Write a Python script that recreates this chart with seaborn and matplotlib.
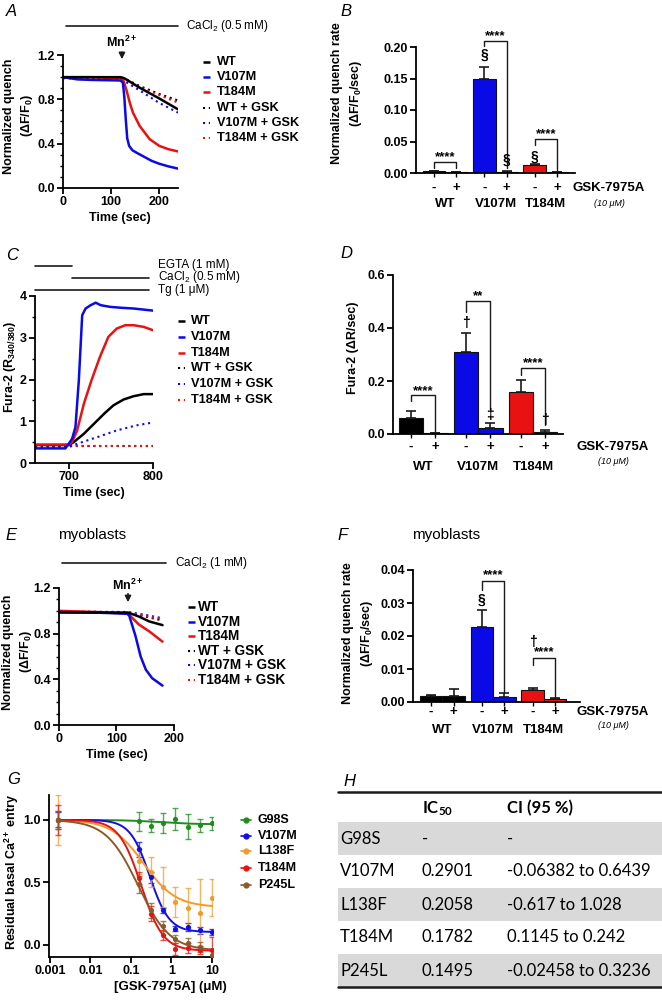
import numpy as np
import pandas as pd
import matplotlib
matplotlib.use("Agg")
import matplotlib.pyplot as plt
import matplotlib.transforms as mtransforms
from matplotlib.patches import Rectangle
from matplotlib.ticker import MultipleLocator
import seaborn as sns

# ======================= DATA =======================
# Panel A: Mn2+ quench (time in sec, normalized F)
a_wt_t = [0, 60, 120, 128, 160, 200, 240]
a_wt_y = [1.0, 1.0, 1.0, 0.99, 0.905, 0.81, 0.71]
a_v107m_t = [0, 30, 60, 120, 125, 128, 131, 134, 138, 145, 155, 170, 185, 200, 220, 240]
a_v107m_y = [1.0, 0.98, 0.975, 0.97, 0.95, 0.82, 0.62, 0.45, 0.38, 0.34, 0.315, 0.28, 0.245, 0.22, 0.195, 0.175]
a_t184m_t = [0, 60, 120, 126, 132, 140, 146, 160, 181, 201, 220, 240]
a_t184m_y = [1.0, 1.0, 0.99, 0.97, 0.89, 0.76, 0.68, 0.56, 0.44, 0.38, 0.35, 0.33]
a_wtg_t = [0, 120, 130, 160, 200, 240]
a_wtg_y = [1.0, 1.0, 0.985, 0.92, 0.85, 0.79]
a_v107mg_t = [0, 120, 130, 160, 200, 240]
a_v107mg_y = [0.99, 0.985, 0.96, 0.88, 0.77, 0.68]
a_t184mg_t = [0, 120, 130, 160, 200, 240]
a_t184mg_y = [1.0, 1.0, 0.98, 0.91, 0.84, 0.77]

# Panel C: Fura-2 ratio traces
c_v107m_t = [660, 696, 700, 704, 708, 712, 716, 720, 726, 732, 738, 749, 761, 777, 800]
c_v107m_y = [0.35, 0.35, 0.46, 0.58, 0.86, 1.98, 3.54, 3.70, 3.78, 3.84, 3.78, 3.74, 3.72, 3.70, 3.65]
c_t184m_t = [660, 700, 704, 710, 718, 727, 737, 747, 757, 767, 777, 789, 800]
c_t184m_y = [0.44, 0.44, 0.50, 0.78, 1.42, 1.98, 2.54, 3.02, 3.22, 3.30, 3.30, 3.26, 3.18]
c_wt_t = [660, 700, 706, 718, 730, 742, 753, 765, 777, 789, 800]
c_wt_y = [0.43, 0.43, 0.50, 0.70, 0.94, 1.18, 1.38, 1.52, 1.60, 1.65, 1.65]
c_v107mg_t = [660, 700, 710, 734, 757, 780, 800]
c_v107mg_y = [0.37, 0.38, 0.46, 0.62, 0.78, 0.90, 0.97]
c_wtg_t = [660, 700, 750, 800]
c_wtg_y = [0.41, 0.41, 0.41, 0.41]
c_t184mg_t = [660, 700, 750, 800]
c_t184mg_y = [0.40, 0.40, 0.40, 0.40]

# Panel E: myoblast Mn2+ quench
e_wt_t = [0, 60, 120, 139, 157, 180]
e_wt_y = [0.985, 0.985, 0.985, 0.95, 0.907, 0.875]
e_v107m_t = [0, 60, 118, 122, 133, 142, 151, 162, 180]
e_v107m_y = [0.99, 0.985, 0.975, 0.96, 0.78, 0.60, 0.485, 0.41, 0.345]
e_t184m_t = [0, 64, 120, 139, 157, 180]
e_t184m_y = [1.0, 0.99, 0.975, 0.88, 0.82, 0.73]
e_wtg_t = [0, 120, 150, 180]
e_wtg_y = [0.99, 0.985, 0.95, 0.915]
e_v107mg_t = [0, 120, 150, 180]
e_v107mg_y = [0.995, 0.99, 0.965, 0.935]
e_t184mg_t = [0, 120, 150, 180]
e_t184mg_y = [0.99, 0.985, 0.955, 0.925]

# Bar panels
bar_groups = ["WT", "WT", "V107M", "V107M", "T184M", "T184M"]
bar_gsk = ["-", "+", "-", "+", "-", "+"]
b_vals = [0.0025, 0.0015, 0.150, 0.002, 0.013, 0.0012]
b_errs = [0.0005, 0.0003, 0.019, 0.0005, 0.0012, 0.0003]
d_vals = [0.060, 0.003, 0.310, 0.022, 0.160, 0.008]
d_errs = [0.027, 0.001, 0.072, 0.020, 0.042, 0.006]
f_vals = [0.0017, 0.0019, 0.0228, 0.0015, 0.0037, 0.0009]
f_errs = [0.0005, 0.0019, 0.0050, 0.0011, 0.0006, 0.0003]

# Panel G: concentration-response
conc = [0.0016, 0.156, 0.3125, 0.625, 1.25, 2.5, 5, 10]
g_variants = ["G98S", "V107M", "L138F", "T184M", "P245L"]
g98s_y = [1.0, 0.99, 0.955, 0.978, 1.008, 0.946, 0.957, 0.973]
g98s_e = [0.07, 0.075, 0.05, 0.08, 0.09, 0.10, 0.05, 0.05]
v107m_y = [1.0, 0.766, 0.54, 0.274, 0.126, 0.14, 0.113, 0.102]
v107m_e = [0.06, 0.06, 0.045, 0.02, 0.02, 0.035, 0.025, 0.025]
l138f_y = [1.0, 0.67, 0.58, 0.46, 0.344, 0.296, 0.253, 0.376]
l138f_e = [0.20, 0.10, 0.12, 0.16, 0.12, 0.16, 0.27, 0.15]
t184m_y = [1.0, 0.535, 0.247, 0.073, -0.035, -0.03, -0.043, -0.043]
t184m_e = [0.12, 0.05, 0.06, 0.04, 0.05, 0.04, 0.03, 0.10]
p245l_y = [1.0, 0.484, 0.274, 0.145, 0.046, 0.013, -0.02, -0.08]
p245l_e = [0.07, 0.07, 0.06, 0.04, 0.03, 0.04, 0.04, 0.03]
# fitted logistic parameters (top, bottom, IC50, Hill)
fit_top = [1.0, 1.0, 1.0, 1.0, 1.0]
fit_bottom = [0.965, 0.10, 0.30, -0.05, -0.05]
fit_ic50 = [0.5, 0.2901, 0.2058, 0.1782, 0.1495]
fit_hill = [1.0, 1.8, 1.1, 1.6, 1.1]

# Panel H table
h_variants = ["G98S", "V107M", "L138F", "T184M", "P245L"]
h_ic50 = ["-", "0.2901", "0.2058", "0.1782", "0.1495"]
h_ci = ["-", "-0.06382 to 0.6439", "-0.617 to 1.028", "0.1145 to 0.242", "-0.02458 to 0.3236"]

# ======================= STYLE =======================
sns.set_theme(style="ticks")
plt.rcParams["font.family"] = ["Liberation Sans", "DejaVu Sans"]
plt.rcParams["mathtext.fontset"] = "custom"
plt.rcParams["mathtext.rm"] = "Liberation Sans"
plt.rcParams["mathtext.it"] = "Liberation Sans:italic"
plt.rcParams["mathtext.bf"] = "Liberation Sans:bold"
for k in ["axes.edgecolor", "xtick.color", "ytick.color", "text.color", "axes.labelcolor"]:
    plt.rcParams[k] = "black"

BLACK, BLUE, RED = "#000000", "#0a0ae6", "#e81212"
GCOL = ["#1e8c1e", "#1010e0", "#f59a2a", "#e41414", "#8c5a28"]
DOT = (0, (1, 1.8))
TICK_FS = 9
LAB_FS = 9

W, H = 662, 1001
fig = plt.figure(figsize=(W / 100, H / 100), dpi=100)
ov = fig.add_axes([0, 0, 1, 1])
ov.set_xlim(0, W)
ov.set_ylim(H, 0)
ov.axis("off")


def add_ax(x0, y0, x1, y1):
    return fig.add_axes([x0 / W, 1 - y1 / H, (x1 - x0) / W, (y1 - y0) / H])


def T(x, y, s, size=LAB_FS, weight="bold", ha="center", va="center", **kw):
    ov.text(x, y, s, fontsize=size, fontweight=weight, ha=ha, va=va, **kw)


def style(ax):
    sns.despine(ax=ax)
    for s in ["left", "bottom"]:
        ax.spines[s].set_linewidth(1.3)
    ax.tick_params(which="major", direction="out", length=4, width=1.3, labelsize=TICK_FS, pad=2)
    ax.tick_params(which="minor", direction="out", length=2, width=1.0)
    for lab in ax.get_xticklabels() + ax.get_yticklabels():
        lab.set_fontweight("bold")


def legend_lines(x0, ytop, dy, entries, tx, size=9.2):
    for i, (lab, color, ls) in enumerate(entries):
        y = ytop + i * dy
        ov.plot([x0, x0 + 7], [y, y], color=color, lw=1.8 if ls == "-" else 1.5,
                linestyle=ls, solid_capstyle="butt")
        T(tx, y, lab, size=size, ha="left")


trace_leg = [("WT", BLACK, "-"), ("V107M", BLUE, "-"), ("T184M", RED, "-"),
             ("WT + GSK", BLACK, DOT), ("V107M + GSK", BLUE, DOT), ("T184M + GSK", RED, DOT)]


def trace(ax, t, y, color, ls):
    sns.lineplot(x=np.array(t, float), y=np.array(y, float), color=color,
                 linestyle=ls, lw=1.8 if ls == "-" else 1.5, ax=ax)


# ======================= PANEL A =======================
axA = add_ax(63, 55, 178, 188)
for t, y, c, ls in [(a_wtg_t, a_wtg_y, BLACK, DOT), (a_v107mg_t, a_v107mg_y, BLUE, DOT),
                    (a_t184mg_t, a_t184mg_y, RED, DOT), (a_t184m_t, a_t184m_y, RED, "-"),
                    (a_v107m_t, a_v107m_y, BLUE, "-"), (a_wt_t, a_wt_y, BLACK, "-")]:
    trace(axA, t, y, c, ls)
axA.set_xlim(0, 240)
axA.set_ylim(0, 1.2)
axA.set_xticks([0, 100, 200], ["0", "100", "200"])
axA.set_yticks([0, 0.4, 0.8, 1.2], ["0.0", "0.4", "0.8", "1.2"])
axA.yaxis.set_minor_locator(MultipleLocator(0.1))
style(axA)
axA.annotate("", xy=(123, 1.137), xytext=(123, 1.25), annotation_clip=False,
             arrowprops=dict(arrowstyle="-|>", color="k", lw=1.2, mutation_scale=9))
axA.text(123, 1.31, r"Mn$\mathregular{^{2+}}$", ha="center", va="center", fontsize=9,
         fontweight="bold", clip_on=False)
ov.plot([66, 178], [26, 26], color="k", lw=1.2)
T(186, 26, r"CaCl$\mathregular{_2}$ (0.5 mM)", size=8.5, weight="normal", ha="left")
T(6, 12, "A", size=12, weight="normal", ha="left", style="italic")
T(9, 116, "Normalized quench", rotation=90)
T(27, 116, r"(ΔF/F$\mathregular{_0}$)", rotation=90)
T(120, 218, "Time (sec)")
legend_lines(203, 62, 15.2, trace_leg, 217)

# ======================= BAR PANELS =======================
bar_pos = [0, 1, 2.25, 3.25, 4.5, 5.5]
bar_keys = [g + s for g, s in zip(bar_groups, bar_gsk)]
grp_col = {"WT": BLACK, "V107M": BLUE, "T184M": RED}
bar_pal = {k: grp_col[g] for k, g in zip(bar_keys, bar_groups)}


def bar_panel(ax, vals, errs, xlim, ylim, yticks, ylabels, y_pm, y_grp):
    df = pd.DataFrame({"pos": bar_pos, "val": vals, "key": bar_keys})
    sns.barplot(data=df, x="pos", y="val", hue="key", palette=bar_pal, native_scale=True,
                width=1.0, dodge=False, saturation=1, edgecolor="#111111", linewidth=0.8,
                errorbar=None, legend=False, ax=ax)
    ax.errorbar(bar_pos, vals, yerr=[np.zeros(len(vals)), errs], fmt="none", ecolor="k",
                elinewidth=1.2, capsize=3.5, capthick=1.2, zorder=1)
    ax.set_xlim(*xlim)
    ax.set_ylim(*ylim)
    ax.set_xticks(bar_pos, [""] * 6)
    ax.set_yticks(yticks, ylabels)
    ax.set_xlabel("")
    ax.set_ylabel("")
    style(ax)
    ax.tick_params(axis="x", length=3, width=1.0)
    tr = mtransforms.blended_transform_factory(ax.transData, ov.transData)
    for p, s in zip(bar_pos, bar_gsk):
        ax.text(p, y_pm, s, transform=tr, ha="center", va="center", fontsize=9.5, fontweight="bold")
    for i, g in enumerate(["WT", "V107M", "T184M"]):
        ax.text((bar_pos[2 * i] + bar_pos[2 * i + 1]) / 2, y_grp, g, transform=tr,
                ha="center", va="center", fontsize=9.5, fontweight="bold")


def bracket(ax, i, j, ytop, yl, yr, label, ylab):
    x0, x1 = bar_pos[i], bar_pos[j]
    ax.plot([x0, x0, x1, x1], [yl, ytop, ytop, yr], color="k", lw=1.0, clip_on=False)
    ax.text((x0 + x1) / 2, ylab, label, ha="center", va="center", fontsize=9.5,
            fontweight="bold", clip_on=False)


def mark(ax, i, y, s):
    ax.text(bar_pos[i], y, s, ha="center", va="center", fontsize=10, fontweight="bold", clip_on=False)


# ---- B ----
axB = add_ax(416, 47, 575, 173)
bar_panel(axB, b_vals, b_errs, (-0.8, 6.3), (0, 0.2), [0, 0.05, 0.10, 0.15, 0.20],
          ["0.00", "0.05", "0.10", "0.15", "0.20"], 188, 204)
bracket(axB, 0, 1, 0.0169, 0.0085, 0.0085, "****", 0.0255)
bracket(axB, 2, 3, 0.2095, 0.2016, 0.0074, "****", 0.2175)
bracket(axB, 4, 5, 0.054, 0.0444, 0.0048, "****", 0.0615)
mark(axB, 2, 0.187, "§")
mark(axB, 3, 0.0206, "§")
mark(axB, 4, 0.026, "§")
T(340, 12, "B", size=12, weight="normal", ha="left", style="italic")
T(337, 93, "Normalized quench rate", rotation=90)
T(356, 93, r"(ΔF/F$\mathregular{_0}$/sec)", rotation=90)
T(609, 188, "GSK-7975A", size=9.5)
T(609, 203, "(10 μM)", size=6.5, weight="normal", style="italic")

# ---- D ----
axD = add_ax(393, 275, 563, 434)
bar_panel(axD, d_vals, d_errs, (-0.74, 6.23), (0, 0.6), [0, 0.2, 0.4, 0.6],
          ["0.0", "0.2", "0.4", "0.6"], 447, 467)
bracket(axD, 0, 1, 0.146, 0.123, 0.006, "****", 0.163)
bracket(axD, 2, 3, 0.50, 0.46, 0.094, "**", 0.52)
bracket(axD, 4, 5, 0.248, 0.223, 0.035, "****", 0.266)
mark(axD, 2, 0.418, "†")
mark(axD, 3, 0.073, "‡")
mark(axD, 5, 0.051, "†")
T(340, 254, "D", size=12, weight="normal", ha="left", style="italic")
T(353, 348, "Fura-2 (ΔR/sec)", rotation=90)
T(613, 447, "GSK-7975A", size=9.5)
T(613, 461, "(10 μM)", size=6.5, weight="normal", style="italic")

# ---- F ----
axF = add_ax(413, 570, 580, 702)
bar_panel(axF, f_vals, f_errs, (-0.8, 6.6), (0, 0.04), [0, 0.01, 0.02, 0.03, 0.04],
          ["0.00", "0.01", "0.02", "0.03", "0.04"], 712, 730)
bracket(axF, 2, 3, 0.0367, 0.034, 0.003, "****", 0.0383)
bracket(axF, 4, 5, 0.01347, 0.0111, 0.0015, "****", 0.0152)
mark(axF, 2, 0.0309, "§")
mark(axF, 4, 0.0182, "†")
T(337, 535, "F", size=12, weight="normal", ha="left", style="italic")
T(412, 535, "myoblasts", size=11, weight="normal", ha="left")
T(348, 633, "Normalized quench rate", rotation=90)
T(367, 633, r"(ΔF/F$\mathregular{_0}$/sec)", rotation=90)
T(613, 712, "GSK-7975A", size=9.5)
T(613, 725, "(10 μM)", size=6.5, weight="normal", style="italic")

# ======================= PANEL C =======================
axC = add_ax(35, 296, 153, 463)
for t, y, c, ls in [(c_wtg_t, c_wtg_y, BLACK, DOT), (c_t184mg_t, c_t184mg_y, RED, DOT),
                    (c_v107mg_t, c_v107mg_y, BLUE, DOT), (c_wt_t, c_wt_y, BLACK, "-"),
                    (c_t184m_t, c_t184m_y, RED, "-"), (c_v107m_t, c_v107m_y, BLUE, "-")]:
    trace(axC, t, y, c, ls)
axC.set_xlim(660, 800)
axC.set_ylim(0, 4)
axC.set_xticks([700, 800], ["700", "800"])
axC.set_yticks([0, 1, 2, 3, 4], ["0", "1", "2", "3", "4"])
axC.yaxis.set_minor_locator(MultipleLocator(0.5))
style(axC)
T(6, 256, "C", size=12, weight="normal", ha="left", style="italic")
ov.plot([35, 72], [266, 266], color="k", lw=1.2)
ov.plot([72, 149], [278, 278], color="k", lw=1.2)
ov.plot([35, 149], [290, 290], color="k", lw=1.2)
T(158, 265, "EGTA (1 mM)", size=8.5, weight="normal", ha="left")
T(158, 277, r"CaCl$\mathregular{_2}$ (0.5 mM)", size=8.5, weight="normal", ha="left")
T(158, 290, "Tg (1 μM)", size=8.5, weight="normal", ha="left")
T(10, 367, r"Fura-2 (R$\mathregular{_{340/380}}$)", rotation=90)
T(94, 493, "Time (sec)")
legend_lines(178, 321, 15.8, trace_leg, 191)

# ======================= PANEL E =======================
axE = add_ax(59, 588, 174, 725)
for t, y, c, ls in [(e_wtg_t, e_wtg_y, BLACK, DOT), (e_v107mg_t, e_v107mg_y, BLUE, DOT),
                    (e_t184mg_t, e_t184mg_y, RED, DOT), (e_t184m_t, e_t184m_y, RED, "-"),
                    (e_v107m_t, e_v107m_y, BLUE, "-"), (e_wt_t, e_wt_y, BLACK, "-")]:
    trace(axE, t, y, c, ls)
axE.set_xlim(0, 200)
axE.set_ylim(0, 1.2)
axE.set_xticks([0, 100, 200], ["0", "100", "200"])
axE.set_yticks([0, 0.4, 0.8, 1.2], ["0.0", "0.4", "0.8", "1.2"])
axE.yaxis.set_minor_locator(MultipleLocator(0.1))
style(axE)
axE.annotate("", xy=(120, 1.051), xytext=(120, 1.174), annotation_clip=False,
             arrowprops=dict(arrowstyle="-|>", color="k", lw=1.2, mutation_scale=9))
axE.text(120, 1.226, r"Mn$\mathregular{^{2+}}$", ha="center", va="center", fontsize=9,
         fontweight="bold", clip_on=False)
T(5, 535, "E", size=12, weight="normal", ha="left", style="italic")
T(58, 535, "myoblasts", size=11, weight="normal", ha="left")
ov.plot([62, 166], [563, 563], color="k", lw=1.2)
T(175, 563, r"CaCl$\mathregular{_2}$ (1 mM)", size=8.5, weight="normal", ha="left")
T(8, 652, "Normalized quench", rotation=90)
T(26, 652, r"(ΔF/F$\mathregular{_0}$)", rotation=90)
T(117, 755, "Time (sec)")
legend_lines(188, 607, 14.6, trace_leg, 198, size=9.8)

# ======================= PANEL G =======================
axG = add_ax(49, 795, 213, 957)
g_y = [g98s_y, v107m_y, l138f_y, t184m_y, p245l_y]
g_e = [g98s_e, v107m_e, l138f_e, t184m_e, p245l_e]
grid = np.logspace(np.log10(conc[0]), np.log10(conc[-1]), 300)
for k in range(5):
    fit = fit_bottom[k] + (fit_top[k] - fit_bottom[k]) / (1 + (grid / fit_ic50[k]) ** fit_hill[k])
    axG.errorbar(conc, g_y[k], yerr=g_e[k], fmt="none", ecolor=GCOL[k], elinewidth=1.0,
                 capsize=2.2, capthick=1.0, alpha=0.75)
    sns.lineplot(x=grid, y=fit, color=GCOL[k], lw=1.4, ax=axG)
    sns.scatterplot(x=np.array(conc), y=np.array(g_y[k]), color=GCOL[k], s=14, linewidth=0, ax=axG,
                    zorder=5)
axG.set_xscale("log")
axG.set_xlim(0.00095, 10.6)
axG.set_ylim(-0.1, 1.2)
axG.set_xticks([0.001, 0.01, 0.1, 1, 10], ["0.001", "0.01", "0.1", "1", "10"])
axG.set_yticks([0, 0.5, 1.0], ["0.0", "0.5", "1.0"])
style(axG)
T(7, 779, "G", size=12, weight="normal", ha="left", style="italic")
T(12, 872, r"Residual basal Ca$\mathregular{^{2+}}$ entry", rotation=90)
T(170, 987, "[GSK-7975A] (μM)", size=9.5)
for k, lab in enumerate(g_variants):
    y = [820, 836, 851, 868, 885][k]
    ov.plot([241, 251], [y, y], color=GCOL[k], lw=1.2)
    ov.plot([246], [y], marker="o", color=GCOL[k], ms=3.5)
    T(258, y, lab, size=9, ha="left")

# ======================= PANEL H (table) =======================
T(343, 782, "H", size=12, weight="normal", ha="left", style="italic")
row_y0 = [822, 855, 888, 921, 954]
row_h = 33
for i in range(5):
    if i % 2 == 0:
        ov.add_patch(Rectangle((338, row_y0[i]), W - 338, row_h, facecolor="#d9d9d9", edgecolor="none"))
ov.plot([338, W], [792, 792], color="k", lw=1.8)
ov.plot([338, W], [987, 987], color="k", lw=1.8)
TAB_FS = 12
ov.text(422, 809, r"IC$\mathregular{_{50}}$", fontsize=TAB_FS, fontweight="bold", family="Lato",
        ha="left", va="center")
ov.text(507, 808, "CI (95 %)", fontsize=TAB_FS, fontweight="bold", family="Lato", ha="left", va="center")
for i in range(5):
    yc = row_y0[i] + row_h / 2
    ov.text(340, yc, h_variants[i], fontsize=TAB_FS, family="Lato", ha="left", va="center")
    ov.text(422, yc, h_ic50[i], fontsize=TAB_FS, family="Lato", ha="left", va="center")
    ov.text(507, yc, h_ci[i], fontsize=TAB_FS, family="Lato", ha="left", va="center")

fig.savefig("out.png", dpi=100)
